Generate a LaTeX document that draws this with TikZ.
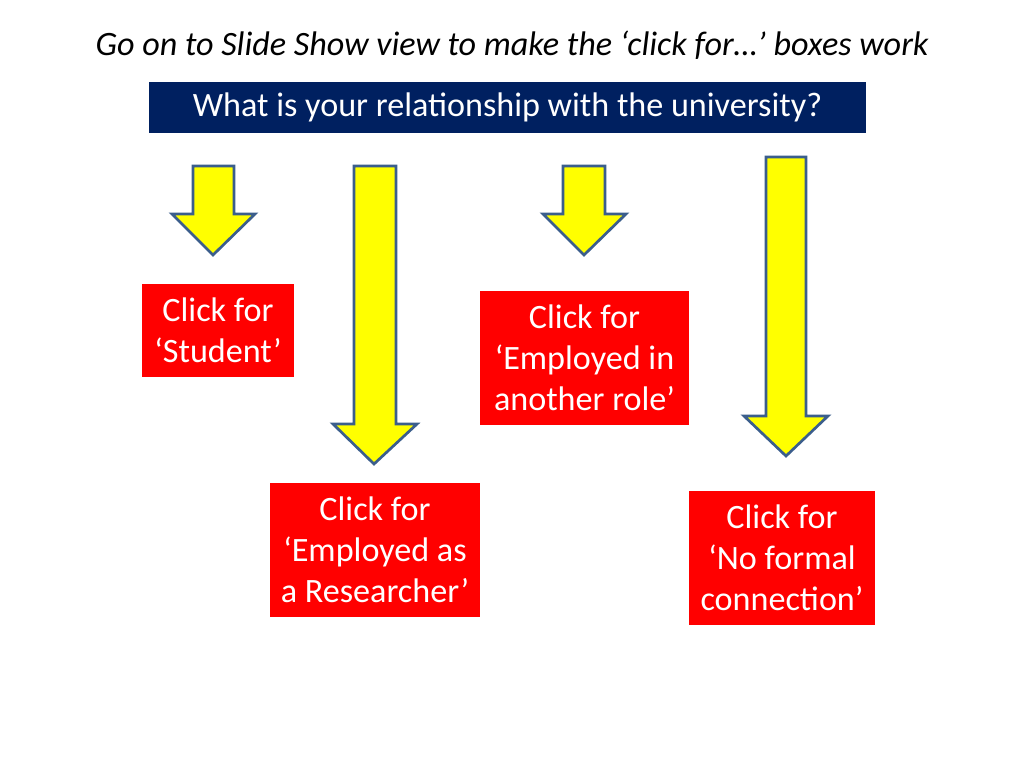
\documentclass[tikz,border=0pt]{standalone}
\usepackage{fontspec}
\setmainfont{Carlito}
\def\px{0.703125pt}
\definecolor{arrowfill}{HTML}{FFFF00}
\definecolor{arrowline}{HTML}{3B5E8C}
\definecolor{boxred}{HTML}{FF0000}
\definecolor{navy}{HTML}{002060}
\tikzset{
  bigarrow/.style={fill=arrowfill, draw=arrowline, line width=1.9pt, line join=miter},
  clickbox/.style={fill=boxred, text=white, align=center, inner sep=0pt,
    font=\fontsize{24}{28.8}\selectfont},
  questionbox/.style={fill=navy, text=white, align=center, inner sep=0pt,
    font=\fontsize{24}{28.8}\selectfont},
}
\begin{document}
\begin{tikzpicture}[x=0.703125pt, y=-0.703125pt]
\useasboundingbox[fill=white] (0,0) rectangle (1024,768);

\node[font=\fontsize{24}{28.8}\selectfont\itshape, inner sep=0pt] (hint) at (512,45)
  {Go on to Slide Show view to make the ‘click for…’ boxes work};

\node[questionbox, minimum width=717*\px, minimum height=51*\px] (question) at (507.5,107.5)
  {\raisebox{-1.5pt}{What is your relationship with the university?}};

% arrows
\draw[bigarrow] (193,166) -- (234,166) -- (234,214) -- (255,214) -- (213,255)
  -- (172,214) -- (193,214) -- cycle;
\draw[bigarrow] (354,166) -- (396,166) -- (396,424) -- (417,424) -- (374,464)
  -- (333,424) -- (354,424) -- cycle;
\draw[bigarrow] (563,166) -- (605,166) -- (605,214) -- (626,214) -- (584,255)
  -- (543,214) -- (563,214) -- cycle;
\draw[bigarrow] (766,157) -- (806,157) -- (806,416) -- (828,416) -- (786,456)
  -- (744,416) -- (766,416) -- cycle;

\node[clickbox, minimum width=152*\px, minimum height=93*\px] (student) at (218,330.5)
  {Click for\\‘Student’};
\node[clickbox, minimum width=209*\px, minimum height=134*\px] (other) at (584.5,358)
  {Click for\\‘Employed in\\another role’};
\node[clickbox, minimum width=210*\px, minimum height=134*\px] (researcher) at (375,550)
  {Click for\\‘Employed as\\a Researcher’};
\node[clickbox, minimum width=186*\px, minimum height=134*\px] (noformal) at (782,558)
  {Click for\\‘No formal\\connection’};
\end{tikzpicture}
\end{document}
